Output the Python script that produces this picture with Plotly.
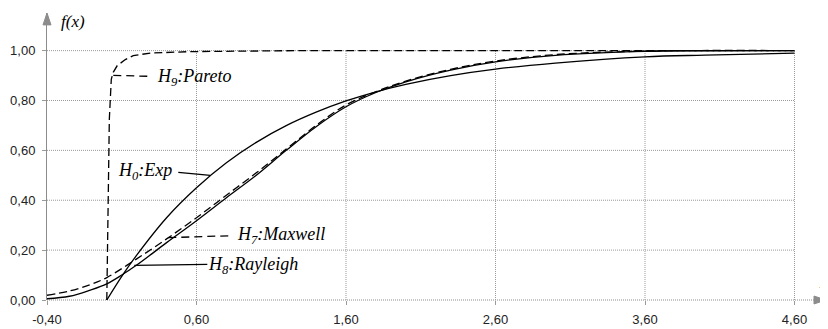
import plotly.graph_objects as go

# ---- data ----
x_tick_vals = [-0.4, 0.6, 1.6, 2.6, 3.6, 4.6]
x_tick_text = ["-0,40", "0,60", "1,60", "2,60", "3,60", "4,60"]
y_tick_vals = [0.0, 0.2, 0.4, 0.6, 0.8, 1.0]
y_tick_text = ["0,00", "0,20", "0,40", "0,60", "0,80", "1,00"]

pareto_x = [0.00, 0.017, 0.030, 0.043, 0.070, 0.124, 0.177, 0.291, 0.559, 1.294, 2.6, 3.6, 4.6]
pareto_y = [0.00, 0.726, 0.885, 0.913, 0.940, 0.964, 0.980, 0.990, 0.996, 1.0, 1.0, 1.0, 1.0]

exp_x = [0.0, 0.1, 0.2, 0.4, 0.6, 0.8, 1.0, 1.2, 1.4, 1.6, 1.8, 2.0, 2.3, 2.6, 3.0, 3.6, 4.0, 4.6]
exp_y = [0.0, 0.095, 0.18, 0.33, 0.45, 0.55, 0.632, 0.699, 0.753, 0.798, 0.835, 0.865, 0.90, 0.926, 0.95, 0.975, 0.982, 0.99]

maxwell_x = [-0.4, -0.25, -0.11, 0.0, 0.2, 0.4, 0.6, 0.8, 1.0, 1.2, 1.4, 1.6, 1.8, 2.0, 2.3, 2.6, 3.0, 3.6, 4.6]
maxwell_y = [0.019, 0.036, 0.062, 0.09, 0.165, 0.245, 0.33, 0.42, 0.51, 0.605, 0.70, 0.782, 0.835, 0.878, 0.925, 0.958, 0.984, 0.998, 1.0]

rayleigh_x = [-0.4, -0.25, -0.11, 0.0, 0.1, 0.2, 0.4, 0.6, 0.8, 1.0, 1.2, 1.4, 1.6, 1.8, 2.0, 2.3, 2.6, 3.0, 3.6, 4.6]
rayleigh_y = [0.005, 0.015, 0.04, 0.065, 0.10, 0.14, 0.23, 0.318, 0.41, 0.50, 0.60, 0.695, 0.775, 0.832, 0.875, 0.922, 0.955, 0.981, 0.997, 1.0]

# ---- geometry (page has an 8px body margin) ----
OFF = 8
W, H = 828 - OFF, 329 - OFF
ML, MR, MT, MB = 47 - OFF, 2, 13 - OFF, 26
PW, PH = W - ML - MR, H - MT - MB
X_PER_UNIT = 149.5
Y_PER_UNIT = 252.0
x_range = [-0.4, -0.4 + PW / X_PER_UNIT]
y_range = [0.0, PH / Y_PER_UNIT]

GRID = "#9a9a9a"
AXIS = "#8c8c8c"
SERIF = "Liberation Serif"
SANS = "Liberation Sans"

fig = go.Figure()

line_style = dict(color="black", width=1.3)
fig.add_trace(go.Scatter(x=pareto_x, y=pareto_y, mode="lines",
                         line=dict(color="black", width=1.3, dash="8px,4px")))
fig.add_trace(go.Scatter(x=exp_x, y=exp_y, mode="lines", line_shape="spline",
                         line=line_style))
fig.add_trace(go.Scatter(x=maxwell_x, y=maxwell_y, mode="lines", line_shape="spline",
                         line=dict(color="black", width=1.3, dash="8px,4px")))
fig.add_trace(go.Scatter(x=rayleigh_x, y=rayleigh_y, mode="lines", line_shape="spline",
                         line=line_style))

shapes = []
for xv in x_tick_vals[1:]:
    shapes.append(dict(type="line", xref="x", yref="y", x0=xv, x1=xv,
                       y0=y_tick_vals[0], y1=y_tick_vals[-1],
                       line=dict(color=GRID, width=1, dash="1px,1px"), layer="below"))
for yv in y_tick_vals[1:]:
    shapes.append(dict(type="line", xref="x", yref="y", x0=x_tick_vals[0], x1=x_tick_vals[-1],
                       y0=yv, y1=yv,
                       line=dict(color=GRID, width=1, dash="1px,1px"), layer="below"))
shapes.append(dict(type="line", xref="paper", yref="paper", x0=0, x1=0.99, y0=0, y1=0,
                   line=dict(color=AXIS, width=1, dash="1px,1px"), layer="below"))
ax_h = 12 / PH
ax_w = 4 / PW
shapes.append(dict(type="path", xref="paper", yref="paper",
                   path=f"M {-ax_w} {1 - ax_h} L 0 1 L {ax_w} {1 - ax_h} Z",
                   fillcolor=AXIS, line=dict(color=AXIS, width=1)))
bx_w = 12 / PW
bx_h = 4 / PH
shapes.append(dict(type="path", xref="paper", yref="paper",
                   path=f"M {1 - bx_w} {-bx_h} L 1 0 L {1 - bx_w} {bx_h} Z",
                   fillcolor=AXIS, line=dict(color=AXIS, width=1)))

# convert reference pixel positions (window coords) to data coords
def px2x(px):
    return -0.4 + (px - 46.7) / X_PER_UNIT

def py2y(py):
    return (303 - py) / Y_PER_UNIT

leaders = [
    ((113, 76), (151, 77), "8px,5px"),
    ((178, 174), (210, 177), "solid"),
    ((168, 240), (233, 238), "8px,5px"),
    ((134, 268), (207, 267), "solid"),
]
for (a, b, d) in leaders:
    shapes.append(dict(type="line", xref="x", yref="y", x0=px2x(a[0]), y0=py2y(a[1]),
                       x1=px2x(b[0]), y1=py2y(b[1]),
                       line=dict(color="black", width=1.3, dash=d)))

labels = [
    ("<i>H<sub>9</sub>:Pareto</i>", 155, 78),
    ("<i>H<sub>0</sub>:Exp</i>", 116, 173),
    ("<i>H<sub>7</sub>:Maxwell</i>", 235, 238),
    ("<i>H<sub>8</sub>:Rayleigh</i>", 206, 268),
]
annotations = []
for (t, px, py) in labels:
    annotations.append(dict(text=t, x=px2x(px), y=py2y(py), xref="x", yref="y",
                            xanchor="left", yanchor="middle", showarrow=False,
                            font=dict(family=SERIF, size=18, color="black")))
annotations.append(dict(text="<i>f(x)</i>", x=px2x(59), y=py2y(22), xref="x", yref="y",
                        xanchor="left", yanchor="middle", showarrow=False,
                        font=dict(family=SERIF, size=17, color="black")))
annotations.append(dict(text="<i>x</i>", x=px2x(817), y=py2y(285), xref="x", yref="y",
                        xanchor="left", yanchor="middle", showarrow=False,
                        font=dict(family=SERIF, size=17, color="black")))

fig.update_layout(
    width=W, height=H,
    margin=dict(l=ML, r=MR, t=MT, b=MB, pad=0),
    plot_bgcolor="white", paper_bgcolor="white",
    showlegend=False,
    shapes=shapes,
    annotations=annotations,
    xaxis=dict(range=x_range, tickvals=x_tick_vals, ticktext=x_tick_text,
               showgrid=False, zeroline=False, showline=False,
               ticks="outside", ticklen=4, tickcolor=GRID, tickwidth=1,
               ticklabelstandoff=3,
               tickfont=dict(family=SANS, size=13, color="#222"),
               fixedrange=True),
    yaxis=dict(range=y_range, tickvals=y_tick_vals, ticktext=y_tick_text,
               showgrid=False, zeroline=False, showline=True, linecolor=AXIS, linewidth=1,
               ticks="outside", ticklen=4, tickcolor=GRID, tickwidth=1,
               ticklabelstandoff=4,
               tickfont=dict(family=SANS, size=13, color="#222"),
               fixedrange=True),
)

fig.write_html("out.html")
